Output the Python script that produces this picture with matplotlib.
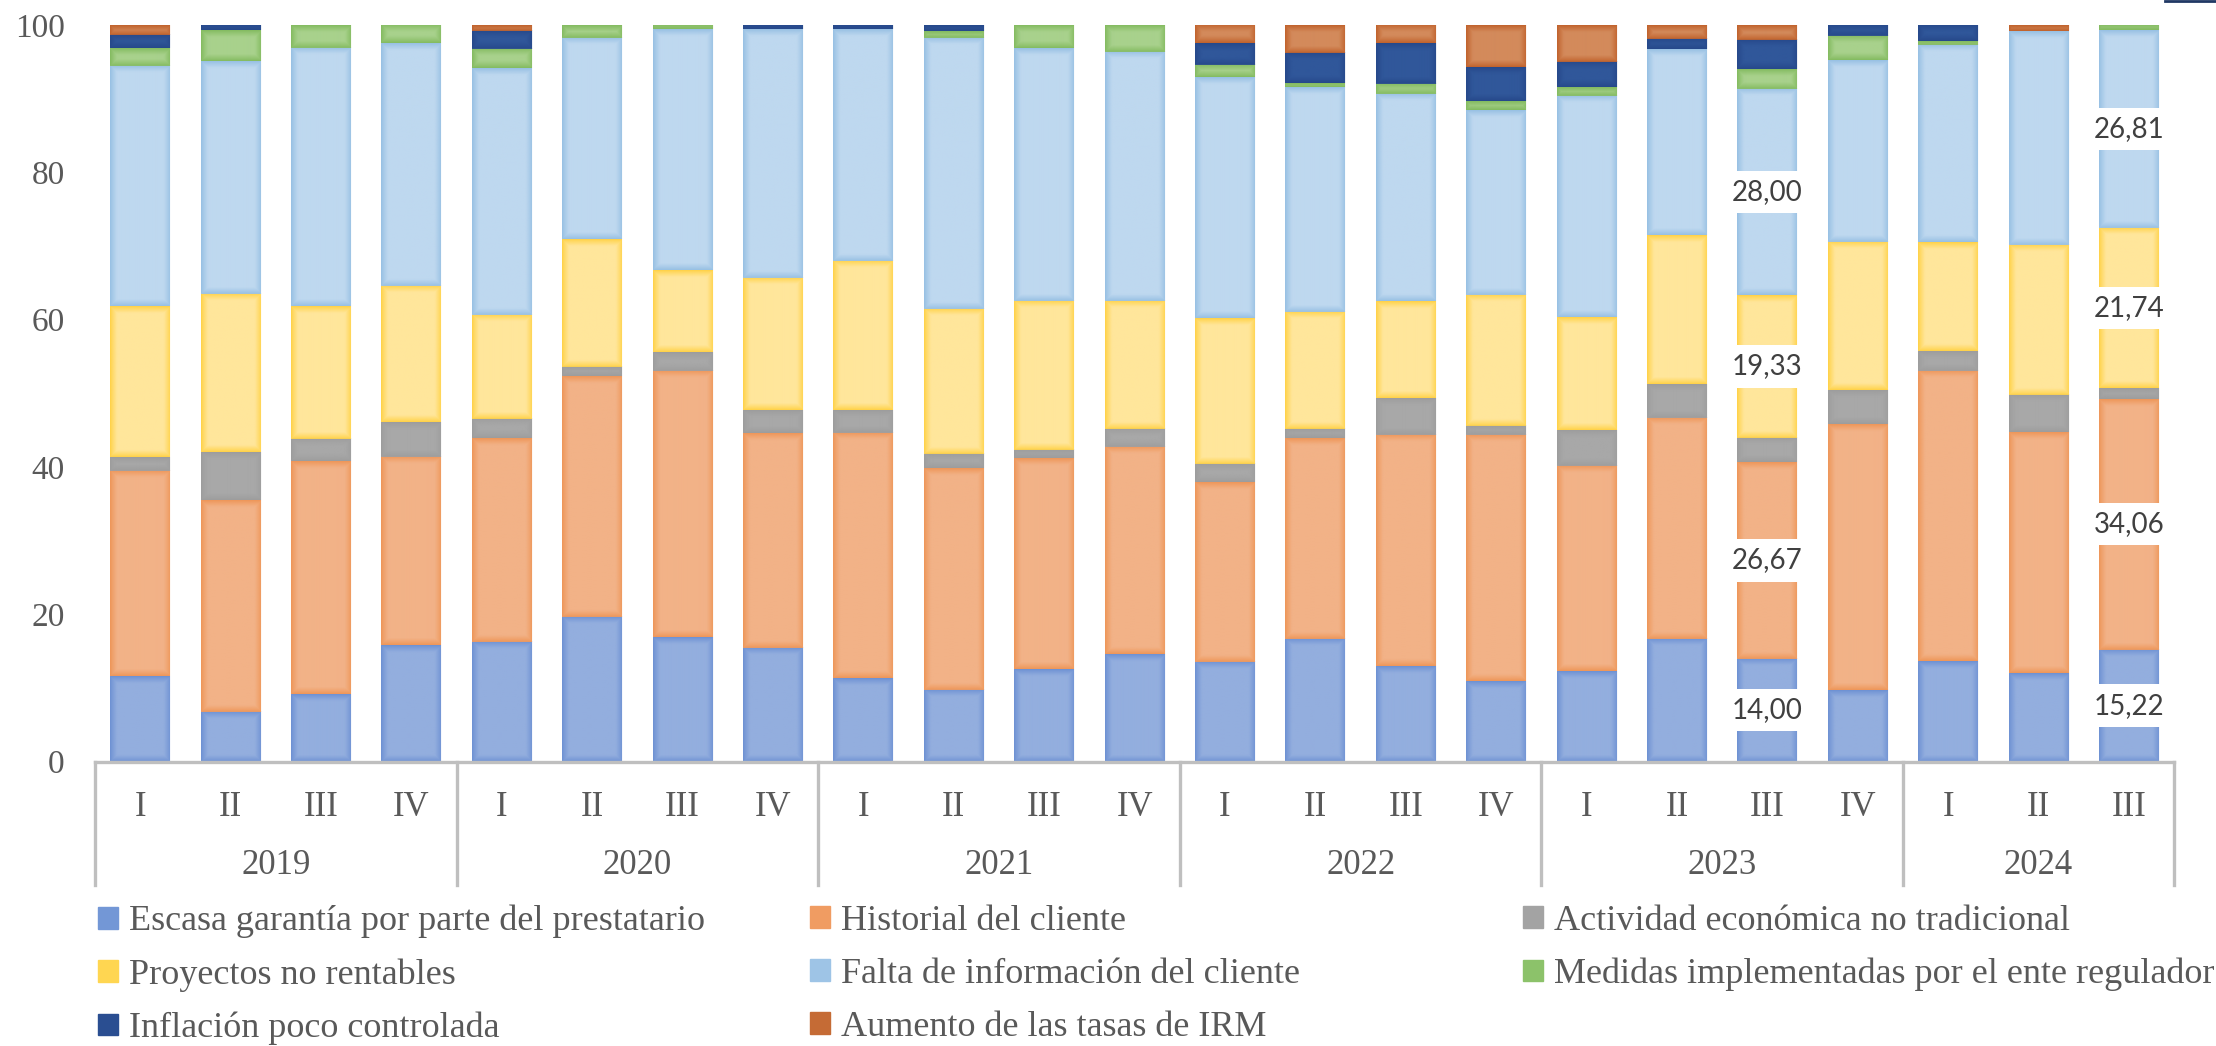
import numpy as np
import matplotlib.pyplot as plt
from matplotlib.colors import to_rgb
from matplotlib.lines import Line2D

plt.rcParams["font.family"] = ["Liberation Serif", "DejaVu Serif"]

# categorías
quarters = ["I", "II", "III", "IV"] * 5 + ["I", "II", "III"]
years = ["2019", "2020", "2021", "2022", "2023", "2024"]
year_sizes = [4, 4, 4, 4, 4, 3]

series_names = [
    "Escasa garantía por parte del prestatario",
    "Historial del cliente",
    "Actividad económica no tradicional",
    "Proyectos no rentables",
    "Falta de información del cliente",
    "Medidas implementadas por el ente regulador",
    "Inflación poco controlada",
    "Aumento de las tasas de IRM",
]

escasa    = [11.6, 6.8, 9.2, 15.8, 16.3, 19.7, 16.9, 15.5, 11.3, 9.8, 12.6, 14.6,
             13.6, 16.7, 13.0, 10.9, 12.3, 16.7, 14.00, 9.7, 13.7, 12.0, 15.22]
historial = [27.9, 28.7, 31.6, 25.6, 27.6, 32.6, 36.2, 29.1, 33.3, 30.0, 28.6, 28.1,
             24.3, 27.2, 31.4, 33.4, 27.9, 30.0, 26.67, 36.1, 39.4, 32.7, 34.06]
actividad = [1.9, 6.5, 3.0, 4.7, 2.6, 1.3, 2.5, 3.1, 3.1, 2.0, 1.1, 2.5,
             2.5, 1.3, 5.0, 1.3, 4.8, 4.6, 3.33, 4.6, 2.7, 5.1, 1.45]
proyectos = [20.4, 21.5, 18.0, 18.5, 14.2, 17.3, 11.1, 18.0, 20.3, 19.7, 20.3, 17.4,
             19.8, 15.9, 13.1, 17.8, 15.3, 20.2, 19.33, 20.1, 14.7, 20.4, 21.74]
falta     = [32.7, 31.6, 35.1, 32.9, 33.4, 27.4, 32.7, 33.7, 31.4, 36.8, 34.3, 33.8,
             32.7, 30.5, 28.1, 25.1, 30.1, 25.2, 28.00, 24.7, 26.8, 29.0, 26.81]
medidas   = [2.4, 4.2, 3.1, 2.5, 2.6, 1.7, 0.6, 0.0, 0.0, 0.9, 3.1, 3.6,
             1.7, 0.5, 1.4, 1.2, 1.2, 0.0, 2.67, 3.3, 0.5, 0.0, 0.72]
inflacion = [1.8, 0.7, 0.0, 0.0, 2.5, 0.0, 0.0, 0.6, 0.6, 0.8, 0.0, 0.0,
             2.9, 4.1, 5.5, 4.6, 3.4, 1.4, 4.0, 1.5, 2.2, 0.0, 0.0]
aumento   = [1.3, 0.0, 0.0, 0.0, 0.8, 0.0, 0.0, 0.0, 0.0, 0.0, 0.0, 0.0,
             2.5, 3.8, 2.5, 5.7, 5.0, 1.9, 2.0, 0.0, 0.0, 0.8, 0.0]

series = [escasa, historial, actividad, proyectos, falta, medidas, inflacion, aumento]

# degradado estilo Excel: borde más oscuro, centro claro
outer_colors = ["#6C90D3", "#EE9557", "#9D9D9D", "#FFD144",
                "#96BFE3", "#82BA5E", "#26488A", "#C0612B"]
inner_colors = ["#93AEDE", "#F2B287", "#A8A8A8", "#FFE69B",
                "#BED8EF", "#A8D18C", "#30579A", "#D38A5B"]
legend_colors = ["#7397D6", "#F09C62", "#A3A3A3", "#FFD651",
                 "#9EC4E6", "#8CC26A", "#2A4E91", "#C56B35"]

# barras con etiqueta de datos (2023 III y 2024 III)
labeled_bars = [18, 22]
labeled_series = [0, 1, 3, 4]

TXT = "#595959"
RAMP = 7.0  # px del degradado hacia el borde

fig = plt.figure(figsize=(22.16, 10.46), dpi=100)
ax = fig.add_axes([0.0429, 0.2718, 0.9382, 0.7043])

XLIM = (-0.5, len(quarters) - 0.5)
YLIM = (0, 100)
ax.set_xlim(*XLIM)
ax.set_ylim(*YLIM)

x = np.arange(len(quarters))
bottom = np.zeros(len(quarters))
containers = []
for vals, name, fc in zip(series, series_names, outer_colors):
    vals = np.array(vals)
    bc = ax.bar(x, vals, 0.664, bottom=bottom, color=fc, edgecolor="none",
                label=name, zorder=2)
    containers.append(bc)
    bottom = bottom + vals

# relleno degradado encima de cada segmento
o = ax.transData.transform((0, 0))
px_x = ax.transData.transform((1, 0))[0] - o[0]
px_y = ax.transData.transform((0, 1))[1] - o[1]
for bc, c_in in zip(containers, inner_colors):
    rgb = to_rgb(c_in)
    for p in bc.patches:
        x0, y0, w, h = p.get_x(), p.get_y(), p.get_width(), p.get_height()
        if h <= 0:
            continue
        nw = max(int(round(w * px_x)), 2)
        nh = max(int(round(h * px_y)), 2)
        xs = np.arange(nw) + 0.5
        ys = np.arange(nh) + 0.5
        dx = np.minimum(xs, nw - xs)
        dy = np.minimum(ys, nh - ys)
        d = np.minimum(dx[None, :], dy[:, None])
        img = np.zeros((nh, nw, 4))
        img[..., :3] = rgb
        img[..., 3] = np.clip(d / RAMP, 0, 1) ** 0.9
        ax.imshow(img, extent=(x0, x0 + w, y0, y0 + h), aspect="auto",
                  interpolation="bilinear", origin="lower", zorder=2.5)

ax.set_xlim(*XLIM)
ax.set_ylim(*YLIM)

# etiquetas de datos
for si in labeled_series:
    bc = containers[si]
    for bi in labeled_bars:
        p = bc.patches[bi]
        v = series[si][bi]
        ax.text(p.get_x() + p.get_width() / 2, p.get_y() + p.get_height() / 2,
                f"{v:.2f}".replace(".", ","), ha="center", va="center",
                fontsize=20, family=["Lato", "DejaVu Sans"], color="#404040",
                bbox=dict(boxstyle="square,pad=0.3", fc="white", ec="none"),
                zorder=4)

ax.set_yticks(np.arange(0, 101, 20))
ax.tick_params(axis="y", length=0, pad=22, labelsize=24, labelcolor=TXT)
ax.set_xticks(x, quarters)
ax.tick_params(axis="x", length=0, pad=21, labelsize=25, labelcolor=TXT)

for s in ["top", "right", "left"]:
    ax.spines[s].set_visible(False)
ax.spines["bottom"].set_color("#BFBFBF")
ax.spines["bottom"].set_linewidth(2.4)
ax.spines["bottom"].set_zorder(3)

# eje multinivel: años y separadores
trans = ax.get_xaxis_transform()
edges = np.concatenate([[0], np.cumsum(year_sizes)]) - 0.5
for e in edges:
    ax.add_line(Line2D([e, e], [0, -0.1674], transform=trans, color="#BFBFBF",
                       lw=2.4, clip_on=False))
for yr, a, b in zip(years, edges[:-1], edges[1:]):
    ax.text((a + b) / 2, -0.141, yr, transform=trans, ha="center", va="center",
            fontsize=25, color=TXT)

# leyenda en tres columnas
handles = [plt.Rectangle((0, 0), 1, 1, color=c) for c in legend_colors]
col_x = [98 / 2216, 810 / 2216, 1523 / 2216]
for c in range(3):
    idx = list(range(c, len(series), 3))
    fig.legend([handles[i] for i in idx], [series_names[i] for i in idx],
               loc="upper left", bbox_to_anchor=(col_x[c], 1 - 905 / 1046),
               frameon=False, fontsize=26, labelcolor=TXT, handlelength=0.55,
               handleheight=0.55, handletextpad=0.3, labelspacing=0.55,
               borderpad=0, borderaxespad=0)

fig.add_artist(Line2D([0.977, 1.0], [0.9993, 0.9993], color="#203864", lw=2))

plt.savefig("out.png", dpi=100)
